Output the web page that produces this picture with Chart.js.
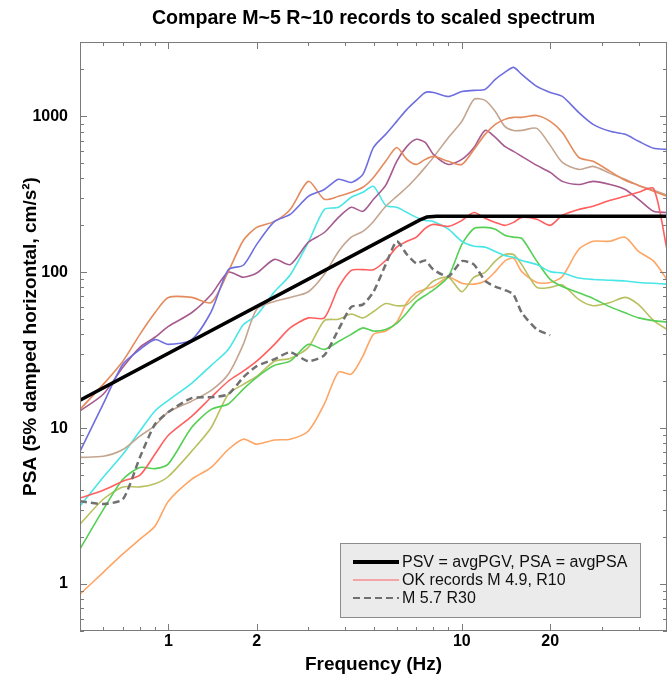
<!DOCTYPE html>
<html>
<head>
<meta charset="utf-8">
<script src="https://cdn.jsdelivr.net/npm/chart.js@4.4.0/dist/chart.umd.min.js"></script>
<style>
  body { margin: 0; background: #fff; }
</style>
</head>
<body>
<canvas id="myChart" width="667" height="679"></canvas>
<script>
const FONT = "'Liberation Sans', Arial, sans-serif";

// frequency grid (Hz) shared by the record spectra
const freqs = [0.5, 0.6, 0.7, 0.8, 0.9, 1, 1.2, 1.4, 1.6, 1.8, 2, 2.3, 2.6, 3, 3.4, 3.8,
  4.2, 4.6, 5, 5.5, 6, 6.5, 7, 7.5, 8, 9, 10, 11, 12, 13, 14, 15, 16, 18, 20, 22, 25, 28,
  32, 36, 40, 45, 50];

// scaled spectrum (constant PSV then constant PSA)
const refFreqs = [0.5, 7.2, 7.6, 8.2, 50];
const refPSA = [15.1, 217, 226, 229, 229];

// OK records, PSA in cm/s^2
const okRed = [3.56, 4.0, 4.57, 5.0, 6.8, 9.0, 11.9, 15.8, 20, 23.2, 26.9, 34.5, 44, 51, 51,
  80, 103, 104, 104, 119, 145, 158, 168, 191, 203, 197, 215, 242, 222, 209, 200, 209, 225,
  219, 200, 232, 253, 265, 290, 307, 326, 345, 140];
const okBlue = [7.1, 14.3, 25.7, 32, 37, 34.5, 37, 56, 104, 111, 151, 212, 235, 307, 340,
  395, 377, 425, 632, 767, 929, 1109, 1268, 1425, 1425, 1343, 1446, 1469, 1490, 1727, 1915,
  2062, 1858, 1557, 1425, 1343, 1061, 889, 802, 767, 692, 624, 614];
const okOrange = [13.2, 19.1, 26.9, 40, 55, 69, 69, 64, 101, 160, 194, 212, 253, 383, 294,
  307, 326, 351, 406, 515, 632, 530, 492, 530, 554, 515, 492, 614, 767, 889, 957, 986, 986,
  1014, 929, 789, 546, 515, 444, 389, 361, 331, 307];
const okPurple = [12.9, 16.5, 24.6, 33, 38.3, 45, 55, 72, 100, 93, 99, 121, 112, 156, 180,
  225, 261, 246, 294, 361, 515, 642, 713, 681, 571, 492, 530, 632, 813, 733, 642, 597, 554,
  485, 437, 383, 366, 383, 366, 340, 294, 246, 242];
const okTan = [6.5, 6.6, 7.3, 8.9, 10.4, 12.7, 14.9, 17.5, 22.2, 34.5, 58, 65, 69, 75, 97,
  136, 168, 183, 212, 265, 307, 351, 406, 471, 546, 733, 929, 1285, 1268, 1076, 863, 813,
  813, 838, 652, 507, 457, 478, 431, 395, 361, 336, 312];
const okCyan = [3.16, 4.85, 6.8, 9.6, 12.9, 15.1, 19.4, 25.3, 32, 46, 53, 75, 96, 156, 253,
  261, 303, 326, 356, 269, 261, 242, 225, 215, 212, 189, 158, 147, 145, 136, 128, 125, 119,
  112, 101, 99, 92, 90, 89, 88, 86, 85, 84];
const okGreen = [1.68, 3.0, 4.7, 5.6, 5.5, 5.9, 10.1, 13.2, 14.3, 17.8, 21.2, 25.3, 26.9,
  34.5, 32, 36, 40, 44, 42, 43, 47, 55, 65, 71, 77, 94, 151, 191, 194, 189, 173, 168, 165,
  118, 90, 81, 74, 68, 60, 55, 51, 49, 48];
const okOlive = [2.42, 3.5, 4.2, 4.2, 4.4, 4.9, 7.1, 10.1, 16.5, 19.1, 21.5, 26.9, 28, 33,
  49, 50, 54, 51, 56, 63, 61, 62, 70, 78, 88, 93, 75, 93, 100, 118, 130, 130, 112, 80, 80,
  83, 67, 61, 64, 69, 62, 49, 43];
const okLtOrange = [0.86, 1.19, 1.56, 1.94, 2.35, 3.4, 4.7, 5.6, 7.3, 8.5, 7.9, 8.4, 8.5,
  9.6, 14.3, 22.9, 22.2, 29, 40, 42, 48, 64, 74, 78, 81, 93, 85, 84, 88, 101, 118, 123, 101,
  86, 86, 94, 140, 158, 158, 168, 136, 118, 90];

// M 5.7 R30 record (ends near 20 Hz)
const m57 = [3.4, 3.26, 3.5, 6.5, 10.6, 12.7, 15.6, 15.8, 16.5, 21.2, 25, 27.7, 30.7, 26.9,
  29.4, 43, 60, 62, 75, 112, 158, 130, 114, 119, 104, 94, 118, 112, 88, 81, 77, 72, 55, 43,
  39.5, null, null, null, null, null, null, null, null];

const xTickLabels = [1, 2, 10, 20];
const yTickLabels = [1, 10, 100, 1000];

const toPoints = (xs, ys) => xs.map((f, i) => ({ x: f, y: ys[i] }));

function record(values, color, label) {
  return {
    label: label,
    data: toPoints(freqs, values),
    borderColor: color,
    borderWidth: 1.6,
    pointRadius: 0,
    tension: 0.25,
    order: 2,
  };
}

const minorTicks = (lo, hi) => {
  const out = [];
  for (let d = 0.1; d <= 1000; d *= 10) {
    for (let k = 1; k <= 9; k++) {
      const v = +(k * d).toPrecision(3);
      if (v >= lo && v <= hi) out.push(v);
    }
  }
  return out;
};

const frame = {
  id: "frame",
  afterDatasetsDraw(chart) {
    const { ctx, chartArea: a, scales } = chart;
    const x = scales.x, y = scales.y;
    ctx.save();
    ctx.strokeStyle = "#7a7a7a";
    ctx.lineWidth = 1;
    ctx.strokeRect(a.left + 0.5, a.top + 0.5, a.right - a.left - 1, a.bottom - a.top - 1);
    ctx.beginPath();
    minorTicks(0.5, 50).forEach((v) => {
      const px = Math.round(x.getPixelForValue(v)) + 0.5;
      const len = xTickLabels.includes(v) ? 7 : 4;
      ctx.moveTo(px, a.bottom); ctx.lineTo(px, a.bottom - len);
      ctx.moveTo(px, a.top); ctx.lineTo(px, a.top + len);
    });
    minorTicks(0.5, 3000).forEach((v) => {
      const py = Math.round(y.getPixelForValue(v)) + 0.5;
      const len = yTickLabels.includes(v) ? 7 : 4;
      ctx.moveTo(a.left, py); ctx.lineTo(a.left + len, py);
      ctx.moveTo(a.right, py); ctx.lineTo(a.right - len, py);
    });
    ctx.stroke();

    // legend box
    const items = chart.data.datasets.filter((d) => d.label);
    const bx = a.right - 327, by = a.bottom - 88, bw = 301, bh = 75;
    ctx.fillStyle = "#ebebeb";
    ctx.fillRect(bx, by, bw, bh);
    ctx.strokeStyle = "#8c8c8c";
    ctx.strokeRect(bx + 0.5, by + 0.5, bw - 1, bh - 1);
    ctx.font = "16px " + FONT;
    ctx.textBaseline = "middle";
    ctx.fillStyle = "#111";
    items.forEach((d, i) => {
      const ly = by + 19 + i * 18;
      ctx.beginPath();
      ctx.strokeStyle = d.borderColor;
      ctx.lineWidth = d.legendWidth || d.borderWidth;
      ctx.setLineDash(d.borderDash || []);
      ctx.moveTo(bx + 13, ly);
      ctx.lineTo(bx + 59, ly);
      ctx.stroke();
      ctx.setLineDash([]);
      ctx.fillText(d.label, bx + 62, ly + 1);
    });
    ctx.restore();
  },
};

new Chart("myChart", {
  type: "line",
  data: {
    datasets: [
      {
        label: "PSV = avgPGV, PSA = avgPSA",
        data: toPoints(refFreqs, refPSA),
        borderColor: "#000",
        borderWidth: 3.5,
        legendWidth: 4,
        pointRadius: 0,
        tension: 0,
        order: 0,
      },
      Object.assign(record(okRed, "#ff5f5f", "OK records M 4.9, R10"), { legendWidth: 1 }),
      {
        label: "M 5.7 R30",
        data: toPoints(freqs, m57),
        borderColor: "#707070",
        borderWidth: 2.5,
        legendWidth: 2,
        borderDash: [7, 4],
        pointRadius: 0,
        tension: 0.2,
        spanGaps: false,
        order: 1,
      },
      record(okBlue, "#6e6ee0"),
      record(okOrange, "#e48a5c"),
      record(okPurple, "#a65a8e"),
      record(okTan, "#c4a590"),
      record(okCyan, "#48e6e6"),
      record(okGreen, "#55d055"),
      record(okOlive, "#b9c060"),
      record(okLtOrange, "#ffa564"),
    ],
  },
  options: {
    responsive: false,
    animation: false,
    layout: { padding: 0 },
    plugins: {
      legend: { display: false },
      tooltip: { enabled: false },
      title: {
        display: true,
        fullSize: false,
        text: "Compare M~5 R~10 records to scaled spectrum",
        color: "#000",
        font: { family: FONT, size: 19.6, weight: "bold" },
        padding: { top: 6.5, bottom: 12 },
      },
    },
    scales: {
      x: {
        type: "logarithmic",
        min: 0.5,
        max: 50,
        grid: { display: false, drawTicks: false },
        border: { display: false },
        afterBuildTicks: (s) => { s.ticks = xTickLabels.map((v) => ({ value: v })); },
        afterFit: (s) => { s.height = 48; },
        ticks: {
          callback: (v) => String(v),
          color: "#000",
          font: { family: FONT, size: 16, weight: "bold" },
          padding: 1,
          maxRotation: 0,
          autoSkip: false,
        },
        title: {
          display: true,
          text: "Frequency (Hz)",
          color: "#000",
          font: { family: FONT, size: 19, weight: "bold" },
          padding: { top: 0, bottom: 3 },
        },
      },
      y: {
        type: "logarithmic",
        min: 0.5,
        max: 3000,
        grid: { display: false, drawTicks: false },
        border: { display: false },
        afterBuildTicks: (s) => { s.ticks = yTickLabels.map((v) => ({ value: v })); },
        afterFit: (s) => { s.width = 80; },
        ticks: {
          callback: (v) => String(v),
          color: "#000",
          font: { family: FONT, size: 16, weight: "bold" },
          padding: 12,
          autoSkip: false,
        },
        title: {
          display: true,
          text: "PSA (5% damped horizontal, cm/s²)",
          color: "#000",
          font: { family: FONT, size: 19, weight: "bold" },
          padding: { top: 19, bottom: 0 },
        },
      },
    },
  },
  plugins: [frame],
});
</script>
</body>
</html>
